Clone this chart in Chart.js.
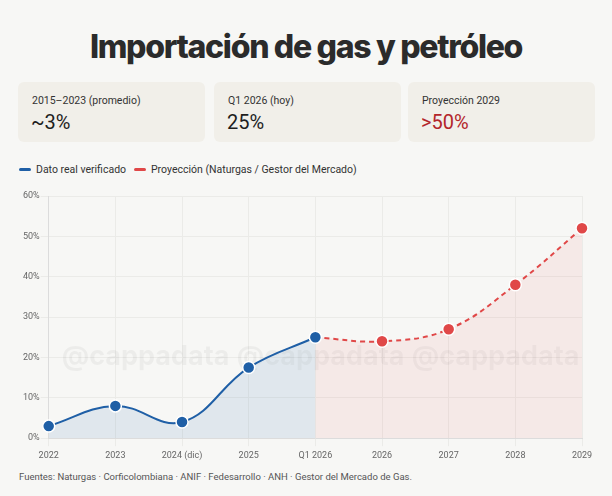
<!DOCTYPE html>
<html>
<head>
<meta charset="utf-8">
<script src="https://cdn.jsdelivr.net/npm/chart.js@4.4.0/dist/chart.umd.min.js"></script>
<style>
  body { margin: 0; background: #f7f7f5; font-family: Roboto, "Noto Sans", sans-serif; width: 612px; height: 496px; position: relative; overflow: hidden; }
  h1 { position: absolute; top: 27px; left: 0; width: 612px; margin: 0; text-align: center; font-family: Inter, sans-serif; font-size: 32px; font-weight: 800; letter-spacing: -1.3px; color: #2b2b2b; }
  .card { position: absolute; top: 82px; height: 60px; width: 187px; background: #f1efe9; border-radius: 6px; }
  .card .lbl { position: absolute; left: 14px; top: 12px; font-size: 10.5px; color: #333; }
  .card .val { position: absolute; left: 13px; top: 28px; font-size: 20px; color: #1e1e1e; }
  .legend { position: absolute; top: 163px; font-size: 10.5px; color: #333; }
  .legend span.sw { display: inline-block; width: 12px; height: 3px; border-radius: 2px; vertical-align: middle; margin-right: 5px; position: relative; top: -1px; }
  .foot { position: absolute; top: 471px; left: 19px; font-size: 9.5px; color: #555; }
  #wrap { position: absolute; left: 22px; top: 185px; width: 580px; height: 280px; }
</style>
</head>
<body>
<h1>Importación de gas y petróleo</h1>
<div class="card" style="left:18px"><div class="lbl">2015–2023 (promedio)</div><div class="val">~3%</div></div>
<div class="card" style="left:214px"><div class="lbl">Q1 2026 (hoy)</div><div class="val">25%</div></div>
<div class="card" style="left:408px"><div class="lbl">Proyección 2029</div><div class="val" style="color:#b3262b">&gt;50%</div></div>
<div class="legend" style="left:19px"><span class="sw" style="background:#1f5fa6"></span>Dato real verificado</div>
<div class="legend" style="left:134px"><span class="sw" style="background:#e04848"></span>Proyección (Naturgas / Gestor del Mercado)</div>
<div id="wrap"><canvas id="c"></canvas></div>
<div class="foot">Fuentes: Naturgas · Corficolombiana · ANIF · Fedesarrollo · ANH · Gestor del Mercado de Gas.</div>
<script>
const labels = ["2022", "2023", "2024 (dic)", "2025", "Q1 2026", "2026", "2027", "2028", "2029"];
const realValues = [3, 8, 4, 17.5, 25, null, null, null, null];
const projValues = [null, null, null, null, 25, 24, 27, 38, 52];
const yTicks = [0, 10, 20, 30, 40, 50, 60];

const watermark = {
  id: "watermark",
  beforeDatasetsDraw(chart) {
    const ctx = chart.ctx;
    const a = chart.chartArea;
    ctx.save();
    ctx.font = "bold 27px Inter, sans-serif";
    ctx.fillStyle = "rgba(0,0,0,0.045)";
    ctx.textBaseline = "middle";
    const y = a.top + (a.bottom - a.top) * 0.665;
    ["@cappadata", "@cappadata", "@cappadata"].forEach((t, i) => {
      ctx.fillText(t, a.left + 13 + i * 175, y);
    });
    ctx.restore();
  }
};

new Chart(document.getElementById("c"), {
  type: "line",
  data: {
    labels: labels,
    datasets: [
      {
        label: "Dato real verificado",
        data: realValues,
        borderColor: "#1f5fa6",
        backgroundColor: "rgba(31,95,166,0.1)",
        fill: "origin",
        tension: 0.4,
        borderWidth: 2,
        pointRadius: 6,
        pointBackgroundColor: "#1f5fa6",
        pointBorderColor: "#ffffff",
        pointBorderWidth: 1.5,
        order: 1
      },
      {
        label: "Proyección (Naturgas / Gestor del Mercado)",
        data: projValues,
        borderColor: "#e04848",
        backgroundColor: "rgba(224,72,72,0.08)",
        borderDash: [5, 4],
        fill: "origin",
        tension: 0.4,
        borderWidth: 2,
        pointRadius: [0, 0, 0, 0, 0, 6, 6, 6, 6],
        pointBackgroundColor: "#e04848",
        pointBorderColor: "#ffffff",
        pointBorderWidth: 1.5,
        order: 2
      }
    ]
  },
  options: {
    responsive: true,
    maintainAspectRatio: false,
    animation: false,
    layout: { padding: { left: 0, right: 20, top: 11, bottom: 0 } },
    plugins: { legend: { display: false }, tooltip: { enabled: false } },
    scales: {
      x: {
        offset: false,
        grid: { color: "#ebebe8" },
        border: { color: "#dcdcdc" },
        ticks: { color: "#666", font: { size: 9, family: "Roboto" }, maxRotation: 0, padding: 4 }
      },
      y: {
        min: 0,
        max: 60,
        afterBuildTicks: axis => { axis.ticks = yTicks.map(v => ({ value: v })); },
        grid: { color: "#ebebe8" },
        border: { color: "#dcdcdc" },
        ticks: { color: "#666", font: { size: 9, family: "Roboto" }, padding: 1, callback: v => v + "%" }
      }
    }
  },
  plugins: [watermark]
});
</script>
</body>
</html>
